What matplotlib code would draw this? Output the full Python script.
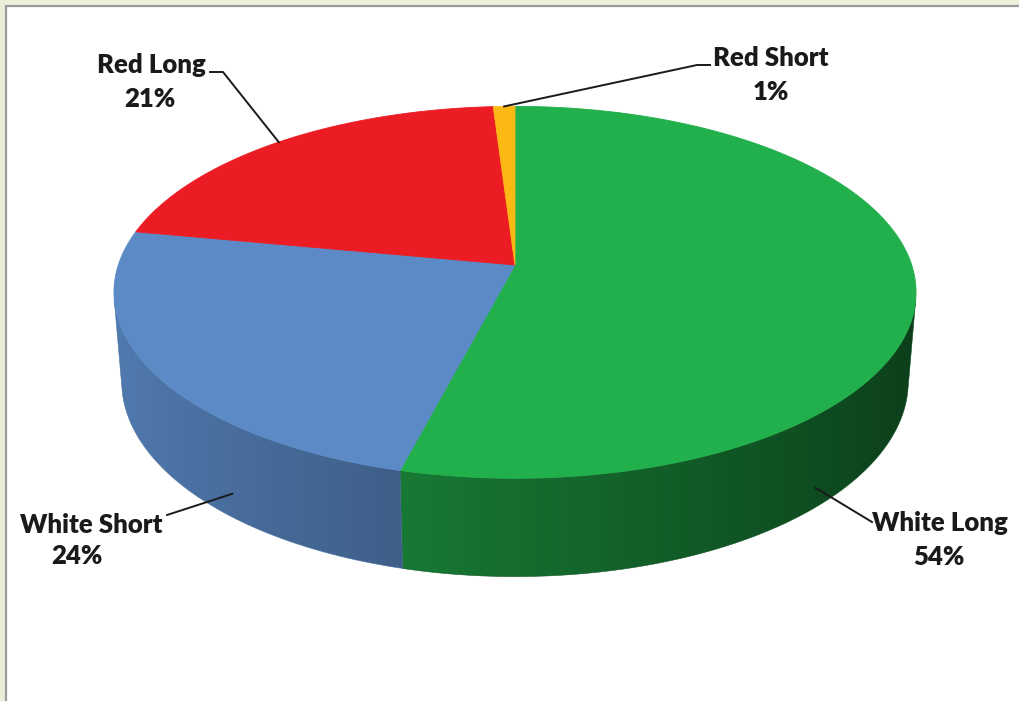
import numpy as np
import matplotlib.pyplot as plt
from matplotlib.colors import to_rgb
from matplotlib.patches import Polygon, Rectangle

# slice data, clockwise from 12 o'clock
labels = ["White Long", "White Short", "Red Long", "Red Short"]
shares = [54, 24, 21, 1]
colors = ["#22B04C", "#5B8AC6", "#EC1C24", "#FDB913"]

# label layout (pixel coords): name / percent centres, elbow and end of leader
name_xy = [(940, 523), (91, 525), (151, 65), (771, 58)]
pct_xy = [(939, 557), (77, 556), (150, 99), (771, 92)]
leader_mid = [(872, 522), (167, 515), (223, 72), (697, 65)]
leader_end = [(872, 522), (167, 515), (210, 72), (710, 65)]
# where the leader touches the pie: rim angle (None = slice middle) and height
anchor_phi = [-46.5, -130.0, None, None]
anchor_z = [-0.20, -0.19, 0.0, 0.0]

W, H = 1019, 701
CX, CY = 515, 265
ELEV = np.radians(27.3)
DIST = 6.05
FOCAL = 2400.0
THICK = 0.255


def project(x, y, z):
    depth = DIST + y * np.cos(ELEV) - z * np.sin(ELEV)
    px = FOCAL * x / depth
    py = FOCAL * (y * np.sin(ELEV) + z * np.cos(ELEV)) / depth
    return CX + px, CY - py


def rim(phi_deg, z):
    p = np.radians(phi_deg)
    return project(np.cos(p), np.sin(p), z)


def shade(hex_color, phi_deg):
    rgb = np.array(to_rgb(hex_color))
    k = 0.62 - 0.27 * np.cos(np.radians(phi_deg))
    return np.clip(rgb[None, :] * np.atleast_1d(k)[:, None], 0, 1)


fig = plt.figure(figsize=(W / 100, H / 100), dpi=100)
ax = fig.add_axes([0, 0, 1, 1])
ax.set_xlim(0, W)
ax.set_ylim(H, 0)
ax.axis("off")

# window frame
ax.add_patch(Rectangle((0, 0), W, 5, color="#EDF1DC", lw=0))
ax.add_patch(Rectangle((0, 0), 5, H, color="#E9EEDA", lw=0))
ax.plot([5, W], [5.5, 5.5], color="#9C9C9C", lw=1.6, solid_capstyle="butt")
ax.plot([5.8, 5.8], [5, H], color="#9C9C9C", lw=1.6, solid_capstyle="butt")

cum = np.concatenate([[0], np.cumsum(shares)]) / sum(shares)
starts = 90 - 360 * cum[:-1]
ends = 90 - 360 * cum[1:]

# side wall, only the part facing the viewer
s0 = np.degrees(np.arcsin(1 / (DIST * np.cos(ELEV))))
vis_lo, vis_hi = -180 + s0, -s0

# rim angle as a function of screen x along the front wall
phi_grid = np.linspace(vis_lo, vis_hi, 2000)
x_grid = np.array([rim(p, -THICK / 2)[0] for p in phi_grid])

for a0, a1, col in zip(starts, ends, colors):
    lo, hi = max(a1, vis_lo), min(a0, vis_hi)
    if lo >= hi:
        continue
    arc = np.linspace(lo, hi, 300)
    outline = [rim(p, 0) for p in arc] + [rim(p, -THICK) for p in arc[::-1]]
    wall = Polygon(outline, closed=True, fc="none", ec="none")
    ax.add_patch(wall)
    xs = np.array([p[0] for p in outline])
    ys = np.array([p[1] for p in outline])
    x0, x1 = xs.min() - 2, xs.max() + 2
    y0, y1 = ys.min() - 2, ys.max() + 2
    cols = np.linspace(x0, x1, int(x1 - x0) * 2)
    phis = np.interp(cols, x_grid, phi_grid)
    img = np.repeat(shade(col, phis)[None, :, :], 2, axis=0)
    im = ax.imshow(img, extent=(x0, x1, y1, y0), aspect="auto",
                   interpolation="bilinear", zorder=1)
    im.set_clip_path(wall)
    # thin outline in the wall colour keeps the silhouette smooth
    ax.add_patch(Polygon(outline, closed=True, fc="none",
                         ec=shade(col, 0.5 * (lo + hi))[0], lw=0.4, zorder=1))

# top face
for a0, a1, col in zip(starts, ends, colors):
    arc = np.linspace(a0, a1, max(3, int(abs(a0 - a1) * 2)))
    pts = [project(0, 0, 0)] + [rim(p, 0) for p in arc]
    ax.add_patch(Polygon(pts, closed=True, fc=col, ec=col, lw=0.6, zorder=2))

# labels with leader lines
font = dict(family=["Lato", "DejaVu Sans"], weight="heavy", size=18.5,
            color="#1A1A1A", ha="center", va="center")
for i, name in enumerate(labels):
    if anchor_phi[i] is None:
        phi = 0.5 * (starts[i] + ends[i])
    else:
        phi = anchor_phi[i]
    a = rim(phi, anchor_z[i])
    ax.plot([a[0], leader_mid[i][0], leader_end[i][0]],
            [a[1], leader_mid[i][1], leader_end[i][1]],
            color="#1A1A1A", lw=1.4, zorder=3)
    ax.text(*name_xy[i], name, zorder=4, **font)
    ax.text(*pct_xy[i], f"{shares[i]}%", zorder=4, **font)

fig.savefig("out.png", dpi=100)
